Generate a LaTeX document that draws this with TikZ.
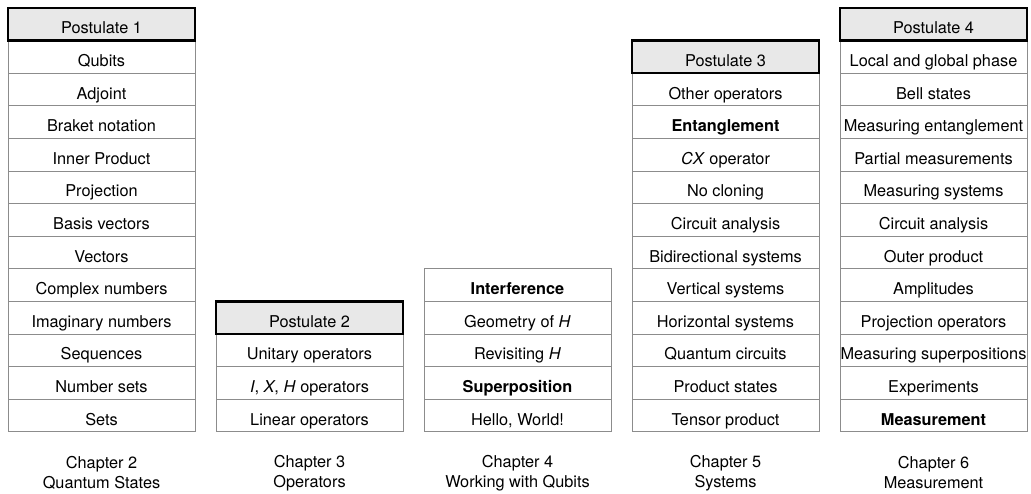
\documentclass[tikz,border=0pt]{standalone}
\usepackage{fontspec}
\setmainfont{TeX Gyre Heros}
\definecolor{cellborder}{RGB}{140,140,140}
\definecolor{postfill}{RGB}{232,232,232}
\begin{document}
\begin{tikzpicture}[x=1pt,y=-1pt,
  cell/.style={draw=cellborder,line width=0.8pt,fill=white,minimum width=187pt,minimum height=32.6pt,inner sep=0pt,text height=21pt,text depth=2pt,font=\fontsize{16.3}{19}\selectfont,text=black},
  postcell/.style={cell,draw=black,line width=2.4pt,fill=postfill},
  chap/.style={align=center,font=\fontsize{16.3}{20}\selectfont,inner sep=0pt}]
\useasboundingbox (0,0) rectangle (1031,493);
% Column 1
\foreach \t [count=\k from 1] in {Qubits,Adjoint,Braket notation,Inner Product,Projection,Basis vectors,Vectors,Complex numbers,Imaginary numbers,Sequences,Number sets,Sets}
  \node[cell,name=a\k] at (101.5,{8+32.6*(\k+0.5)}) {\t};
\node[postcell] (p1) at (101.5,{8+32.6*0.5}) {Postulate 1};
% Column 2
\foreach \t [count=\k from 1] in {Unitary operators,{\textit{I}, \textit{X}, \textit{H} operators},Linear operators}
  \node[cell,name=b\k] at (309.5,{8+32.6*(\k+9.5)}) {\t};
\node[postcell] (p2) at (309.5,{8+32.6*9.5}) {Postulate 2};
% Column 3
\foreach \t [count=\k from 0] in {\textbf{Interference},Geometry of \textit{H},Revisiting \textit{H},\textbf{Superposition},{Hello, World!}}
  \node[cell,name=c\k] at (517.5,{8+32.6*(\k+8.5)}) {\t};
% Column 4
\foreach \t [count=\k from 1] in {Other operators,\textbf{Entanglement},\textit{CX} operator,No cloning,Circuit analysis,Bidirectional systems,Vertical systems,Horizontal systems,Quantum circuits,Product states,Tensor product}
  \node[cell,name=d\k] at (725.5,{8+32.6*(\k+1.5)}) {\t};
\node[postcell] (p3) at (725.5,{8+32.6*1.5}) {Postulate 3};
% Column 5
\foreach \t [count=\k from 1] in {Local and global phase,Bell states,Measuring entanglement,Partial measurements,Measuring systems,Circuit analysis,Outer product,Amplitudes,Projection operators,Measuring superpositions,Experiments,\textbf{Measurement}}
  \node[cell,name=e\k] at (933.5,{8+32.6*(\k+0.5)}) {\t};
\node[postcell] (p4) at (933.5,{8+32.6*0.5}) {Postulate 4};
% Chapter labels
\node[chap] (ch2) at (101.5,473) {Chapter 2\\Quantum States};
\node[chap] (ch3) at (309.5,473) {Chapter 3\\Operators};
\node[chap] (ch4) at (517.5,473) {Chapter 4\\Working with Qubits};
\node[chap] (ch5) at (725.5,473) {Chapter 5\\Systems};
\node[chap] (ch6) at (933.5,473) {Chapter 6\\Measurement};
\end{tikzpicture}
\end{document}
